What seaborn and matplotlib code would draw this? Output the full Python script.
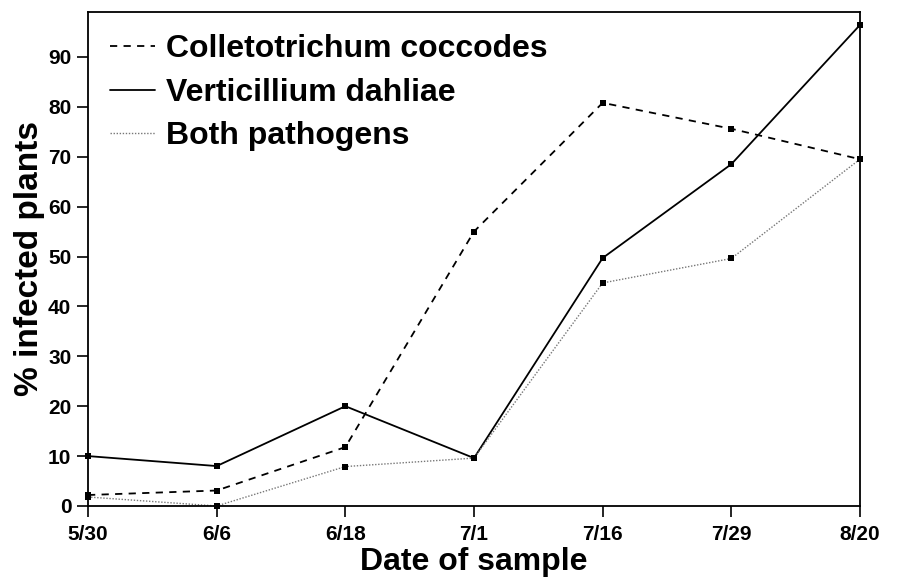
import seaborn as sns
import matplotlib.pyplot as plt
from matplotlib.lines import Line2D
import pandas as pd

# Values
dates = ["5/30", "6/6", "6/18", "7/1", "7/16", "7/29", "8/20"]
colletotrichum = [2.2, 3.1, 11.8, 55.0, 80.8, 75.6, 69.5]
verticillium = [10.0, 8.0, 20.0, 9.6, 49.7, 68.5, 96.4]
both = [1.8, 0.0, 7.9, 9.6, 44.7, 49.6, 69.5]

series_names = ["Colletotrichum coccodes", "Verticillium dahliae", "Both pathogens"]

df = pd.DataFrame({
    "date": dates * 3,
    "pct": colletotrichum + verticillium + both,
    "series": [n for n in series_names for _ in dates],
})

sns.set_theme(style="ticks", rc={"text.color": "black", "axes.labelcolor": "black",
                                 "xtick.color": "black", "ytick.color": "black"})
plt.rcParams["font.family"] = ["Liberation Sans", "DejaVu Sans"]

fig = plt.figure(figsize=(9.02, 5.83), dpi=100)
ax = fig.add_axes([0.0976, 0.1321, 0.8558, 0.8473])

styles = {
    "Colletotrichum coccodes": dict(color="black", lw=1.3, dashes=(4, 3.5)),
    "Verticillium dahliae": dict(color="black", lw=1.3, dashes=()),
    "Both pathogens": dict(color="#777777", lw=1.0, dashes=(1, 1.2)),
}

handles = []
for name in series_names:
    st = styles[name]
    sub = df[df["series"] == name]
    sns.lineplot(data=sub, x="date", y="pct", ax=ax, color=st["color"],
                 lw=st["lw"], sort=False, legend=False)
    l = ax.get_lines()[-1]
    if st["dashes"]:
        l.set_dashes(st["dashes"])
    l.set_marker("s")
    l.set_markersize(4)
    l.set_markerfacecolor("black")
    l.set_markeredgecolor("black")
    l.set_markeredgewidth(0)
    l.set_clip_on(False)
    h = Line2D([], [], color=st["color"], lw=st["lw"])
    if st["dashes"]:
        h.set_dashes(st["dashes"])
    handles.append(h)

ax.set_xlim(0, len(dates) - 1)
ax.set_ylim(0, 99)
ax.set_yticks(range(0, 100, 10))
ax.set_xticks(range(len(dates)))
ax.set_xticklabels(dates)

for lab in ax.get_xticklabels() + ax.get_yticklabels():
    lab.set_fontweight("bold")
    lab.set_fontsize(15)

ax.tick_params(axis="both", direction="out", length=8, width=1.2, color="black")
ax.tick_params(axis="x", pad=6)
ax.tick_params(axis="y", pad=4)
for sp in ax.spines.values():
    sp.set_linewidth(1.3)
    sp.set_color("black")

ax.set_xlabel("Date of sample", fontsize=23, fontweight="bold", labelpad=2)
ax.set_ylabel("% infected plants", fontsize=24, fontweight="bold", labelpad=2)

ax.legend(handles, series_names, loc="upper left", frameon=False,
          prop={"size": 23, "weight": "bold"},
          handlelength=1.4, handletextpad=0.35, labelspacing=0.42,
          borderaxespad=0.3, bbox_to_anchor=(0.0, 1.0))

fig.savefig("out.png", dpi=100)
